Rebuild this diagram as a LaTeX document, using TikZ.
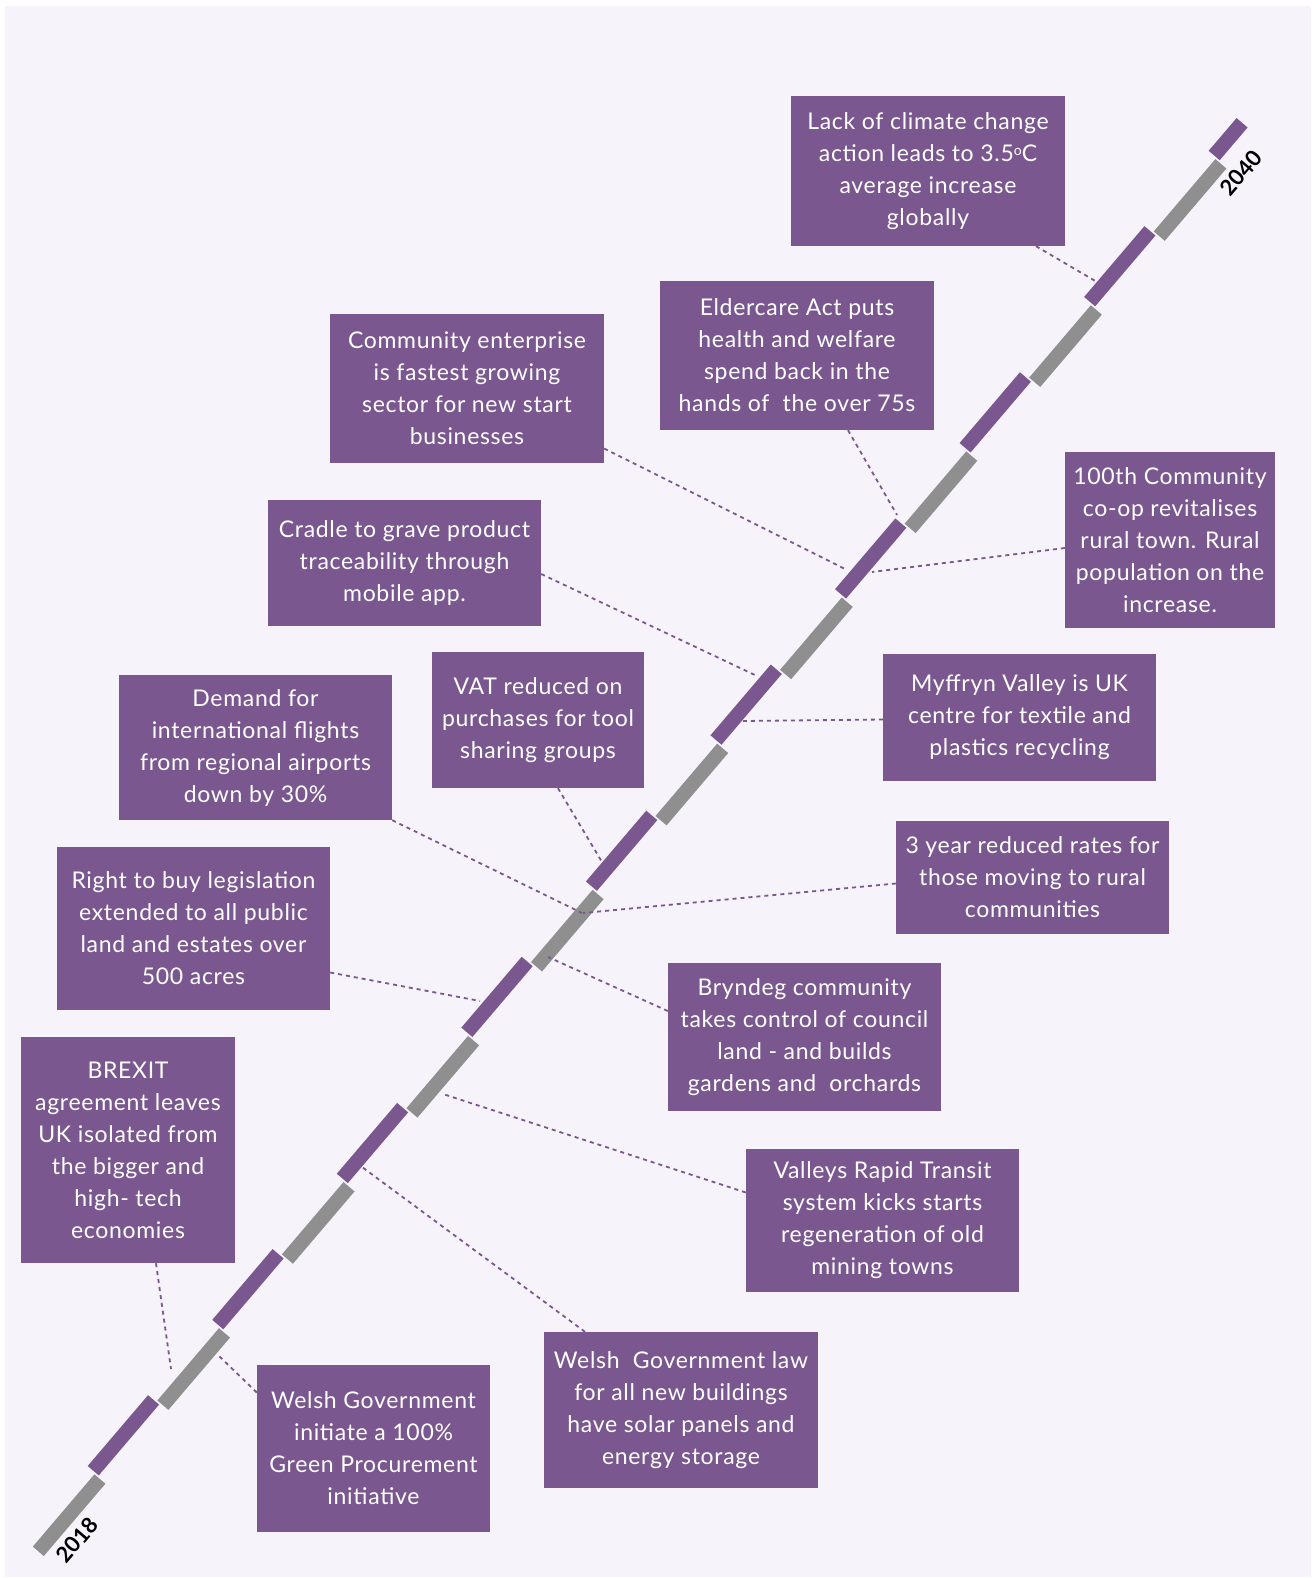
\documentclass[tikz,border=0pt]{standalone}
\usepackage{fontspec}
\setmainfont{Lato}
\newfontfamily\eventfont{Lato}[LetterSpace=3]
\usetikzlibrary{calc}
\definecolor{boxpurple}{HTML}{7B5790}
\definecolor{linegray}{HTML}{8F8F8F}
\definecolor{bglav}{HTML}{F6F3FA}
\tikzset{
  event/.style={fill=boxpurple, text=white, align=center, inner sep=0pt,
    font=\eventfont\fontsize{23}{32}\selectfont},
  link/.style={draw=boxpurple, line width=1.8pt, dash pattern=on 4pt off 4pt},
  graybar/.style={draw=linegray, line width=14.5pt},
  purplebar/.style={draw=boxpurple, line width=14.5pt},
  yearlabel/.style={font=\fontsize{22}{26}\selectfont\bfseries, rotate=49.56, inner sep=0pt}
}
\begin{document}
\begin{tikzpicture}[x=1pt,y=-1pt]
\useasboundingbox (0,0) rectangle (1313,1578);
\fill[white] (0,0) rectangle (1313,1578);
\fill[bglav] (5,6) rectangle (1311,1577);

% timeline
\foreach \k in {0,...,9}{
  \pgfmathsetmacro{\a}{192*\k}
  \pgfmathsetmacro{\b}{192*\k+95}
  \draw[graybar] ({38.3+0.6487*\a},{1551.3-0.7611*\a}) -- ({38.3+0.6487*\b},{1551.3-0.7611*\b});
}
\foreach \k in {0,...,9}{
  \pgfmathsetmacro{\a}{192*\k+97}
  \pgfmathsetmacro{\b}{min(192*\k+190,1868)}
  \draw[purplebar] ({30.3+0.6487*\a},{1544.5-0.7611*\a}) -- ({30.3+0.6487*\b},{1544.5-0.7611*\b});
}

\node[yearlabel] (y2040) at (1241,173) {2040};
\node[yearlabel] (y2018) at (77,1540) {2018};

% timeline anchor points
\coordinate (tlack) at (1097,282);
\coordinate (teld) at (897,515);
\coordinate (tcom) at (847,570);
\coordinate (thund) at (872,572);
\coordinate (tcra) at (757,676);
\coordinate (tmyf) at (743,721);
\coordinate (tvat) at (602,862);
\coordinate (tdem) at (582,913);
\coordinate (tthree) at (583,913);
\coordinate (trtb) at (480,1001);
\coordinate (tbry) at (548,957);
\coordinate (tval) at (443,1094);
\coordinate (tlaw) at (362,1167);
\coordinate (tbrx) at (171,1369);
\coordinate (tgrn) at (219,1356);

% boxes
\node[event, minimum width=274pt, minimum height=150pt] (lack) at (928,171)
  {Lack of climate change\\action leads to 3.5\raisebox{6pt}{\fontsize{14}{14}\selectfont o}C\\average increase\\globally};
\node[event, minimum width=274pt, minimum height=149pt] (eld) at (797,355.5)
  {Eldercare Act puts\\health and welfare\\spend back in the\\hands of~ the over 75s};
\node[event, minimum width=274pt, minimum height=149pt] (com) at (467,388.5)
  {Community enterprise\\is fastest growing\\sector for new start\\businesses};
\node[event, minimum width=210pt, minimum height=176pt] (hund) at (1170,540)
  {100th Community\\co-op revitalises\\rural town. Rural\\population on the\\increase.};
\node[event, minimum width=273pt, minimum height=126pt] (cra) at (404.5,563)
  {Cradle to grave product\\traceability through\\mobile app.};
\node[event, minimum width=212pt, minimum height=136pt] (vat) at (538,720)
  {VAT reduced on\\purchases for tool\\sharing groups};
\node[event, minimum width=273pt, minimum height=127pt] (myf) at (1019.5,717.5)
  {Myffryn Valley is UK\\centre for textile and\\plastics recycling};
\node[event, minimum width=273pt, minimum height=145pt] (dem) at (255.5,747.5)
  {Demand for\\international flights\\from regional airports\\down by 30\%};
\node[event, minimum width=273pt, minimum height=113pt] (three) at (1032.5,877.5)
  {3 year reduced rates for\\those moving to rural\\communities};
\node[event, minimum width=273pt, minimum height=163pt] (rtb) at (193.5,928.5)
  {Right to buy legislation\\extended to all public\\land and estates over\\500 acres};
\node[event, minimum width=273pt, minimum height=148pt] (bry) at (804.5,1037)
  {Bryndeg community\\takes control of council\\land - and builds\\gardens and~ orchards};
\node[event, minimum width=214pt, minimum height=226pt] (brx) at (128,1150)
  {BREXIT\\agreement leaves\\UK isolated from\\the bigger and\\high- tech\\economies};
\node[event, minimum width=273pt, minimum height=143pt] (val) at (882.5,1220.5)
  {Valleys Rapid Transit\\system kicks starts\\regeneration of old\\mining towns};
\node[event, minimum width=274pt, minimum height=156pt] (law) at (681,1410)
  {Welsh~ Government law\\for all new buildings\\have solar panels and\\energy storage};
\node[event, minimum width=233pt, minimum height=167pt] (grn) at (373.5,1448.5)
  {Welsh Government\\initiate a 100\%\\Green Procurement\\initiative};

% connectors
\draw[link] ([xshift=108pt]lack.south) -- (tlack);
\draw[link] ([xshift=51pt]eld.south) -- (teld);
\draw[link] ([yshift=-60pt]com.east) -- (tcom);
\draw[link] ([yshift=-8pt]hund.west) -- (thund);
\draw[link] ([yshift=-11pt]cra.east) -- (tcra);
\draw[link] ([yshift=-2pt]myf.west) -- (tmyf);
\draw[link] ([xshift=20pt]vat.south) -- (tvat);
\draw[link] (dem.south east) -- (tdem);
\draw[link] ([yshift=-6pt]three.west) -- (tthree);
\draw[link] ([yshift=-44pt]rtb.east) -- (trtb);
\draw[link] ([yshift=26pt]bry.west) -- (tbry);
\draw[link] ([xshift=28pt]brx.south) -- (tbrx);
\draw[link] ([yshift=28pt]val.west) -- (tval);
\draw[link] ([xshift=-96pt]law.north) -- (tlaw);
\draw[link] ([yshift=56pt]grn.west) -- (tgrn);
\end{tikzpicture}
\end{document}
